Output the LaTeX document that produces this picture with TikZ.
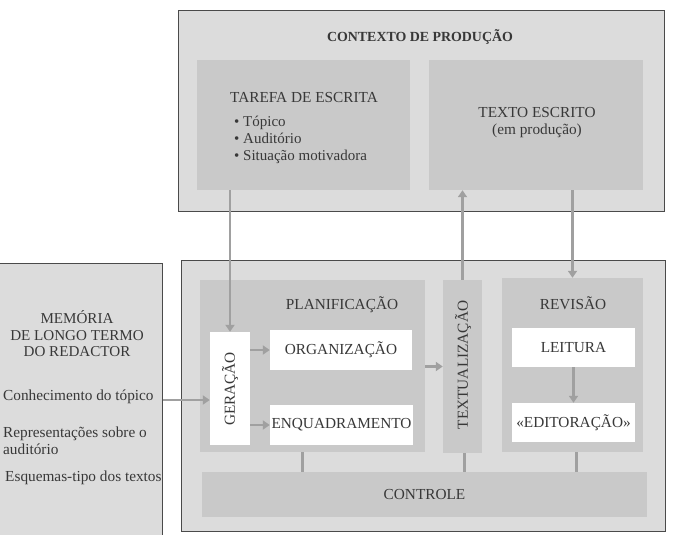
\documentclass[tikz,border=0pt]{standalone}
\usepackage{fontspec}
\setmainfont{Liberation Serif}
\usetikzlibrary{arrows.meta,calc}
\definecolor{outerbg}{HTML}{DCDCDC}
\definecolor{innerbg}{HTML}{C9C9C9}
\definecolor{ink}{HTML}{383838}
\definecolor{arr}{HTML}{A0A0A0}
\definecolor{edge}{HTML}{4A4A4A}
\tikzset{
  outerbox/.style={draw=edge, line width=1pt, fill=outerbg, inner sep=0pt},
  groupbox/.style={fill=innerbg, inner sep=0pt},
  whitebox/.style={fill=white, inner sep=0pt, text=ink},
  lbl/.style={text=ink, inner sep=0pt, font=\fontsize{15.3}{17}\selectfont},
  flow/.style={draw=arr, line width=2.4pt, -{Triangle[width=9pt,length=7pt]}},
  link/.style={draw=arr, line width=2.4pt}
}
\begin{document}
\begin{tikzpicture}[x=1pt,y=-1pt]
\useasboundingbox (0,0) rectangle (696,535);
% top context box
\node[outerbox, minimum width=486pt, minimum height=200pt] (top) at (421,111) {};
\node[lbl, font=\fontsize{13.9}{16}\selectfont\bfseries] (toptitle) at (420,37) {CONTEXTO DE PRODUÇÃO};
\node[groupbox, minimum width=213pt, minimum height=130pt] (tarefa) at (303.5,125) {};
\node[groupbox, minimum width=214pt, minimum height=130pt] (texto) at (536,125) {};
\node[lbl] (tarefat) at (304,98) {TAREFA DE ESCRITA};
\node[lbl, anchor=west, align=left, font=\fontsize{15}{17}\selectfont] (bullets) at (234,140)
  {\textbullet\ Tópico\\\textbullet\ Auditório\\\textbullet\ Situação motivadora};
\node[lbl, align=center, font=\fontsize{15.3}{17}\selectfont] (textot) at (537,123) {TEXTO ESCRITO\\(em produção)};
% memory box
\node[outerbox, minimum width=167pt, minimum height=277pt] (mem) at (78.5,401.5) {};
\node[lbl, align=center, font=\fontsize{15.1}{16.5}\selectfont] (memt) at (77,334) {MEMÓRIA\\DE LONGO TERMO\\DO REDACTOR};
\node[lbl, anchor=west] (conh) at (3,397) {Conhecimento do tópico};
\node[lbl, anchor=west, align=left, font=\fontsize{15.3}{17}\selectfont] (repr) at (3,440.5) {Representações sobre o\\auditório};
\node[lbl, anchor=west] (esq) at (5,478) {Esquemas-tipo dos textos};
% bottom process box
\node[outerbox, minimum width=484pt, minimum height=271pt] (proc) at (423,395.5) {};
\node[groupbox, minimum width=225pt, minimum height=172pt] (plan) at (312.5,366) {};
\node[lbl] (plant) at (342,305) {PLANIFICAÇÃO};
\node[whitebox, minimum width=40pt, minimum height=113pt] (ger) at (230,388.5) {};
\node[lbl, rotate=90] (gert) at (230,389) {GERAÇÃO};
\node[whitebox, lbl, minimum width=142pt, minimum height=40pt] (org) at (341,350) {ORGANIZAÇÃO};
\node[whitebox, lbl, minimum width=143pt, minimum height=40pt] (enq) at (341.5,425) {ENQUADRAMENTO};
\node[groupbox, minimum width=39pt, minimum height=173pt] (textu) at (462.5,366.5) {};
\node[lbl, rotate=90] (textut) at (463,365) {TEXTUALIZAÇÃO};
\node[groupbox, minimum width=141pt, minimum height=174pt] (rev) at (572.5,365) {};
\node[lbl] (revt) at (573,303) {REVISÃO};
\node[whitebox, lbl, minimum width=123pt, minimum height=39pt] (leit) at (573.5,347.5) {LEITURA};
\node[whitebox, lbl, minimum width=123pt, minimum height=39pt] (edit) at (573.5,422.5) {«EDITORAÇÃO»};
\node[groupbox, lbl, minimum width=445pt, minimum height=45pt] (ctrl) at (424.5,494.5) {CONTROLE};
% connectors
\draw[flow] (ger.north |- tarefa.south) -- (ger.north);
\draw[flow] (textu.north) -- (textu.north |- texto.south);
\draw[flow] (rev.north |- texto.south) -- (rev.north);
\draw[flow] (mem.east |- 0,400) -- (ger.west |- 0,400);
\draw[flow] (ger.east |- org) -- (org.west);
\draw[flow] (ger.east |- enq) -- (enq.west);
\draw[flow] (plan.east |- textu) -- (textu.west);
\draw[flow] (leit.south) -- (edit.north);
\draw[link] ([xshift=-10pt]plan.south) -- ([xshift=-10pt]plan.south |- ctrl.north);
\draw[link] ([xshift=2pt]textu.south) -- ([xshift=2pt]textu.south |- ctrl.north);
\draw[link] ([xshift=4pt]rev.south) -- ([xshift=4pt]rev.south |- ctrl.north);
\end{tikzpicture}
\end{document}
